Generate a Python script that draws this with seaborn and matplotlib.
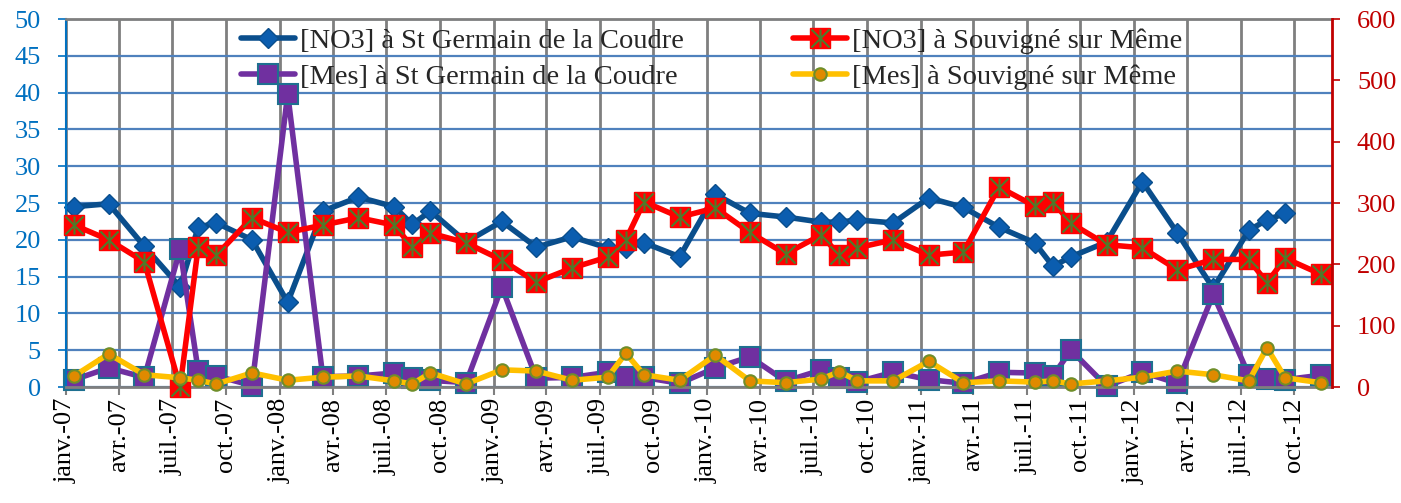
import numpy as np
import pandas as pd
import matplotlib
matplotlib.use('Agg')
import matplotlib.pyplot as plt
from matplotlib.path import Path
from matplotlib.legend_handler import HandlerTuple
import seaborn as sns

# Dates des prélèvements (mi-mois)
dates = [
    '2007-01-15', '2007-03-15', '2007-05-15', '2007-07-15', '2007-08-15', '2007-09-15', '2007-11-15',
    '2008-01-15', '2008-03-15', '2008-05-15', '2008-07-15', '2008-08-15', '2008-09-15', '2008-11-15',
    '2009-01-15', '2009-03-15', '2009-05-15', '2009-07-15', '2009-08-15', '2009-09-15', '2009-11-15',
    '2010-01-15', '2010-03-15', '2010-05-15', '2010-07-15', '2010-08-15', '2010-09-15', '2010-11-15',
    '2011-01-15', '2011-03-15', '2011-05-15', '2011-07-15', '2011-08-15', '2011-09-15', '2011-11-15',
    '2012-01-15', '2012-03-15', '2012-05-15', '2012-07-15', '2012-08-15', '2012-09-15', '2012-11-15',
]

# Axe gauche (0-50)
no3_st_germain = [
    24.5, 24.9, 19.1, 13.6, 21.7, 22.3, 20.0,
    11.5, 23.9, 25.8, 24.5, 22.1, 23.9, 19.7,
    22.5, 19.0, 20.4, 18.9, 18.9, 19.6, 17.7,
    26.2, 23.6, 23.1, 22.4, 22.4, 22.7, 22.3,
    25.7, 24.4, 21.7, 19.6, 16.4, 17.7, 19.7,
    27.9, 20.9, 13.4, 21.3, 22.7, 23.6, np.nan,
]
mes_st_germain = [
    1.0, 2.6, 1.3, 18.7, 2.2, 1.5, 0.2,
    39.8, 1.4, 1.5, 1.9, 1.2, 0.9, 0.6,
    13.6, 1.2, 1.3, 2.0, 1.4, 1.3, 0.5,
    2.6, 4.1, 0.8, 2.3, 1.2, 0.7, 2.0,
    1.0, 0.5, 2.0, 1.9, 1.5, 5.0, 0.1,
    2.0, 0.5, 12.6, 1.6, 1.1, 1.0, 1.6,
]

# Axe droit (0-600)
no3_souvigne = [
    264, 240, 204, 0, 228, 215, 276,
    252, 264, 276, 264, 228, 251, 235,
    207, 171, 194, 212, 240, 302, 277,
    292, 252, 217, 248, 215, 227, 240,
    215, 220, 326, 295, 302, 267, 232,
    227, 191, 208, 208, 170, 210, 184,
]
mes_souvigne = [
    18, 54, 20, 15, 11, 5, 23,
    11, 16, 18, 10, 5, 23, 5,
    28, 26, 11, 16, 55, 20, 11,
    52, 10, 7, 13, 25, 10, 10,
    42, 7, 10, 8, 10, 5, 10,
    16, 26, 20, 10, 64, 15, 7,
]

labels = [
    '[NO3] à St Germain de la Coudre',
    '[Mes] à St Germain de la Coudre',
    '[NO3] à Souvigné sur Même',
    '[Mes] à Souvigné sur Même',
]

mois = ['janv.', 'avr.', 'juil.', 'oct.']
annees = ['07', '08', '09', '10', '11', '12']

df = pd.DataFrame({
    'date': pd.to_datetime(dates),
    'no3_sg': no3_st_germain,
    'mes_sg': mes_st_germain,
    'no3_sv': no3_souvigne,
    'mes_sv': mes_souvigne,
})

sns.set_style('white')
plt.rcParams['font.family'] = ['Liberation Serif', 'DejaVu Serif']

fig = plt.figure(figsize=(14.01, 5.03), dpi=100)
ax = fig.add_axes([0.0471, 0.2306, 0.9036, 0.7316])
ax2 = ax.twinx()

# Séries axe gauche
sns.lineplot(data=df, x='date', y='no3_sg', ax=ax, color='#0A4E8C', lw=4,
             marker='D', markersize=10, markerfacecolor='#0B5DAF',
             markeredgecolor='#0A4E8C', markeredgewidth=1, clip_on=False, label=labels[0])
sns.lineplot(data=df, x='date', y='mes_sg', ax=ax, color='#7030A0', lw=4,
             marker='s', markersize=14, markerfacecolor='#7030A0',
             markeredgecolor='#1E7090', markeredgewidth=1.5, clip_on=False, label=labels[1])

# Séries axe droit
star = Path([(-1, -1), (1, 1), (-1, 1), (1, -1), (0, -1), (0, 1)],
            [Path.MOVETO, Path.LINETO] * 3)
sns.lineplot(data=df, x='date', y='no3_sv', ax=ax2, color='#FF0000', lw=4,
             marker='s', markersize=14, markerfacecolor='#FF0000',
             markeredgecolor='#FF0000', markeredgewidth=1, clip_on=False, label=labels[2])
sns.lineplot(data=df, x='date', y='no3_sv', ax=ax2, linestyle='', marker=star,
             markersize=13, markerfacecolor='none', markeredgecolor='#4F7A2A',
             markeredgewidth=1.5, clip_on=False, legend=False)
sns.lineplot(data=df, x='date', y='mes_sv', ax=ax2, color='#FFC000', lw=4,
             marker='o', markersize=9, markerfacecolor='#E08A00',
             markeredgecolor='#6F8E2A', markeredgewidth=1.5, clip_on=False, label=labels[3])

ax.get_legend().remove()
ax2.get_legend().remove()

# Axes et grilles
ax.set_ylim(0, 50)
ax.set_yticks(range(0, 51, 5))
ax2.set_ylim(0, 600)
ax2.set_yticks(range(0, 601, 100))
ax.set_xlim(pd.Timestamp('2007-01-01'), pd.Timestamp('2012-12-04'))

tick_dates = pd.date_range('2007-01-01', '2012-10-01', freq='QS-JAN')
ax.set_xticks(tick_dates)
ax.set_xticklabels([f'{m}-{a}' for a in annees for m in mois], rotation=90, fontsize=19)
ax.set_xlabel('')
ax.set_ylabel('')
ax2.set_ylabel('')

ax.set_axisbelow(True)
ax.grid(axis='y', color='#4F81BD', lw=1.6)
ax.grid(axis='x', color='#7F7F7F', lw=2)

ax.tick_params(axis='y', left=True, length=6, width=1.2, colors='#0070C0',
               labelsize=19, pad=12)
ax.tick_params(axis='x', bottom=True, length=6, width=1.5, color='#7F7F7F',
               labelcolor='black', pad=2)
ax2.tick_params(axis='y', right=True, length=6, width=1.2, colors='#C00000',
                labelsize=19, pad=12)

ax.spines['left'].set_color('#0070C0')
ax.spines['left'].set_linewidth(1.5)
ax.spines['top'].set_color('#7F7F7F')
ax.spines['top'].set_linewidth(2)
ax.spines['bottom'].set_color('#7F7F7F')
ax.spines['bottom'].set_linewidth(2)
ax.spines['right'].set_visible(False)
for s in ['left', 'top', 'bottom']:
    ax2.spines[s].set_visible(False)
ax2.spines['right'].set_color('#C00000')
ax2.spines['right'].set_linewidth(2)

# Légende commune
h_blue, h_purple = ax.lines[0], ax.lines[1]
h_red, h_star, h_yellow = ax2.lines[0], ax2.lines[1], ax2.lines[2]
ax2.legend([h_blue, h_purple, (h_red, h_star), h_yellow], labels, ncol=2,
           loc='upper center', bbox_to_anchor=(0.51, 1.045), frameon=False,
           fontsize=20.5, handlelength=1.9, handletextpad=0.2, columnspacing=3.8,
           labelspacing=0.35,
           handler_map={tuple: HandlerTuple(ndivide=1)})

fig.savefig('out.png', dpi=100)
